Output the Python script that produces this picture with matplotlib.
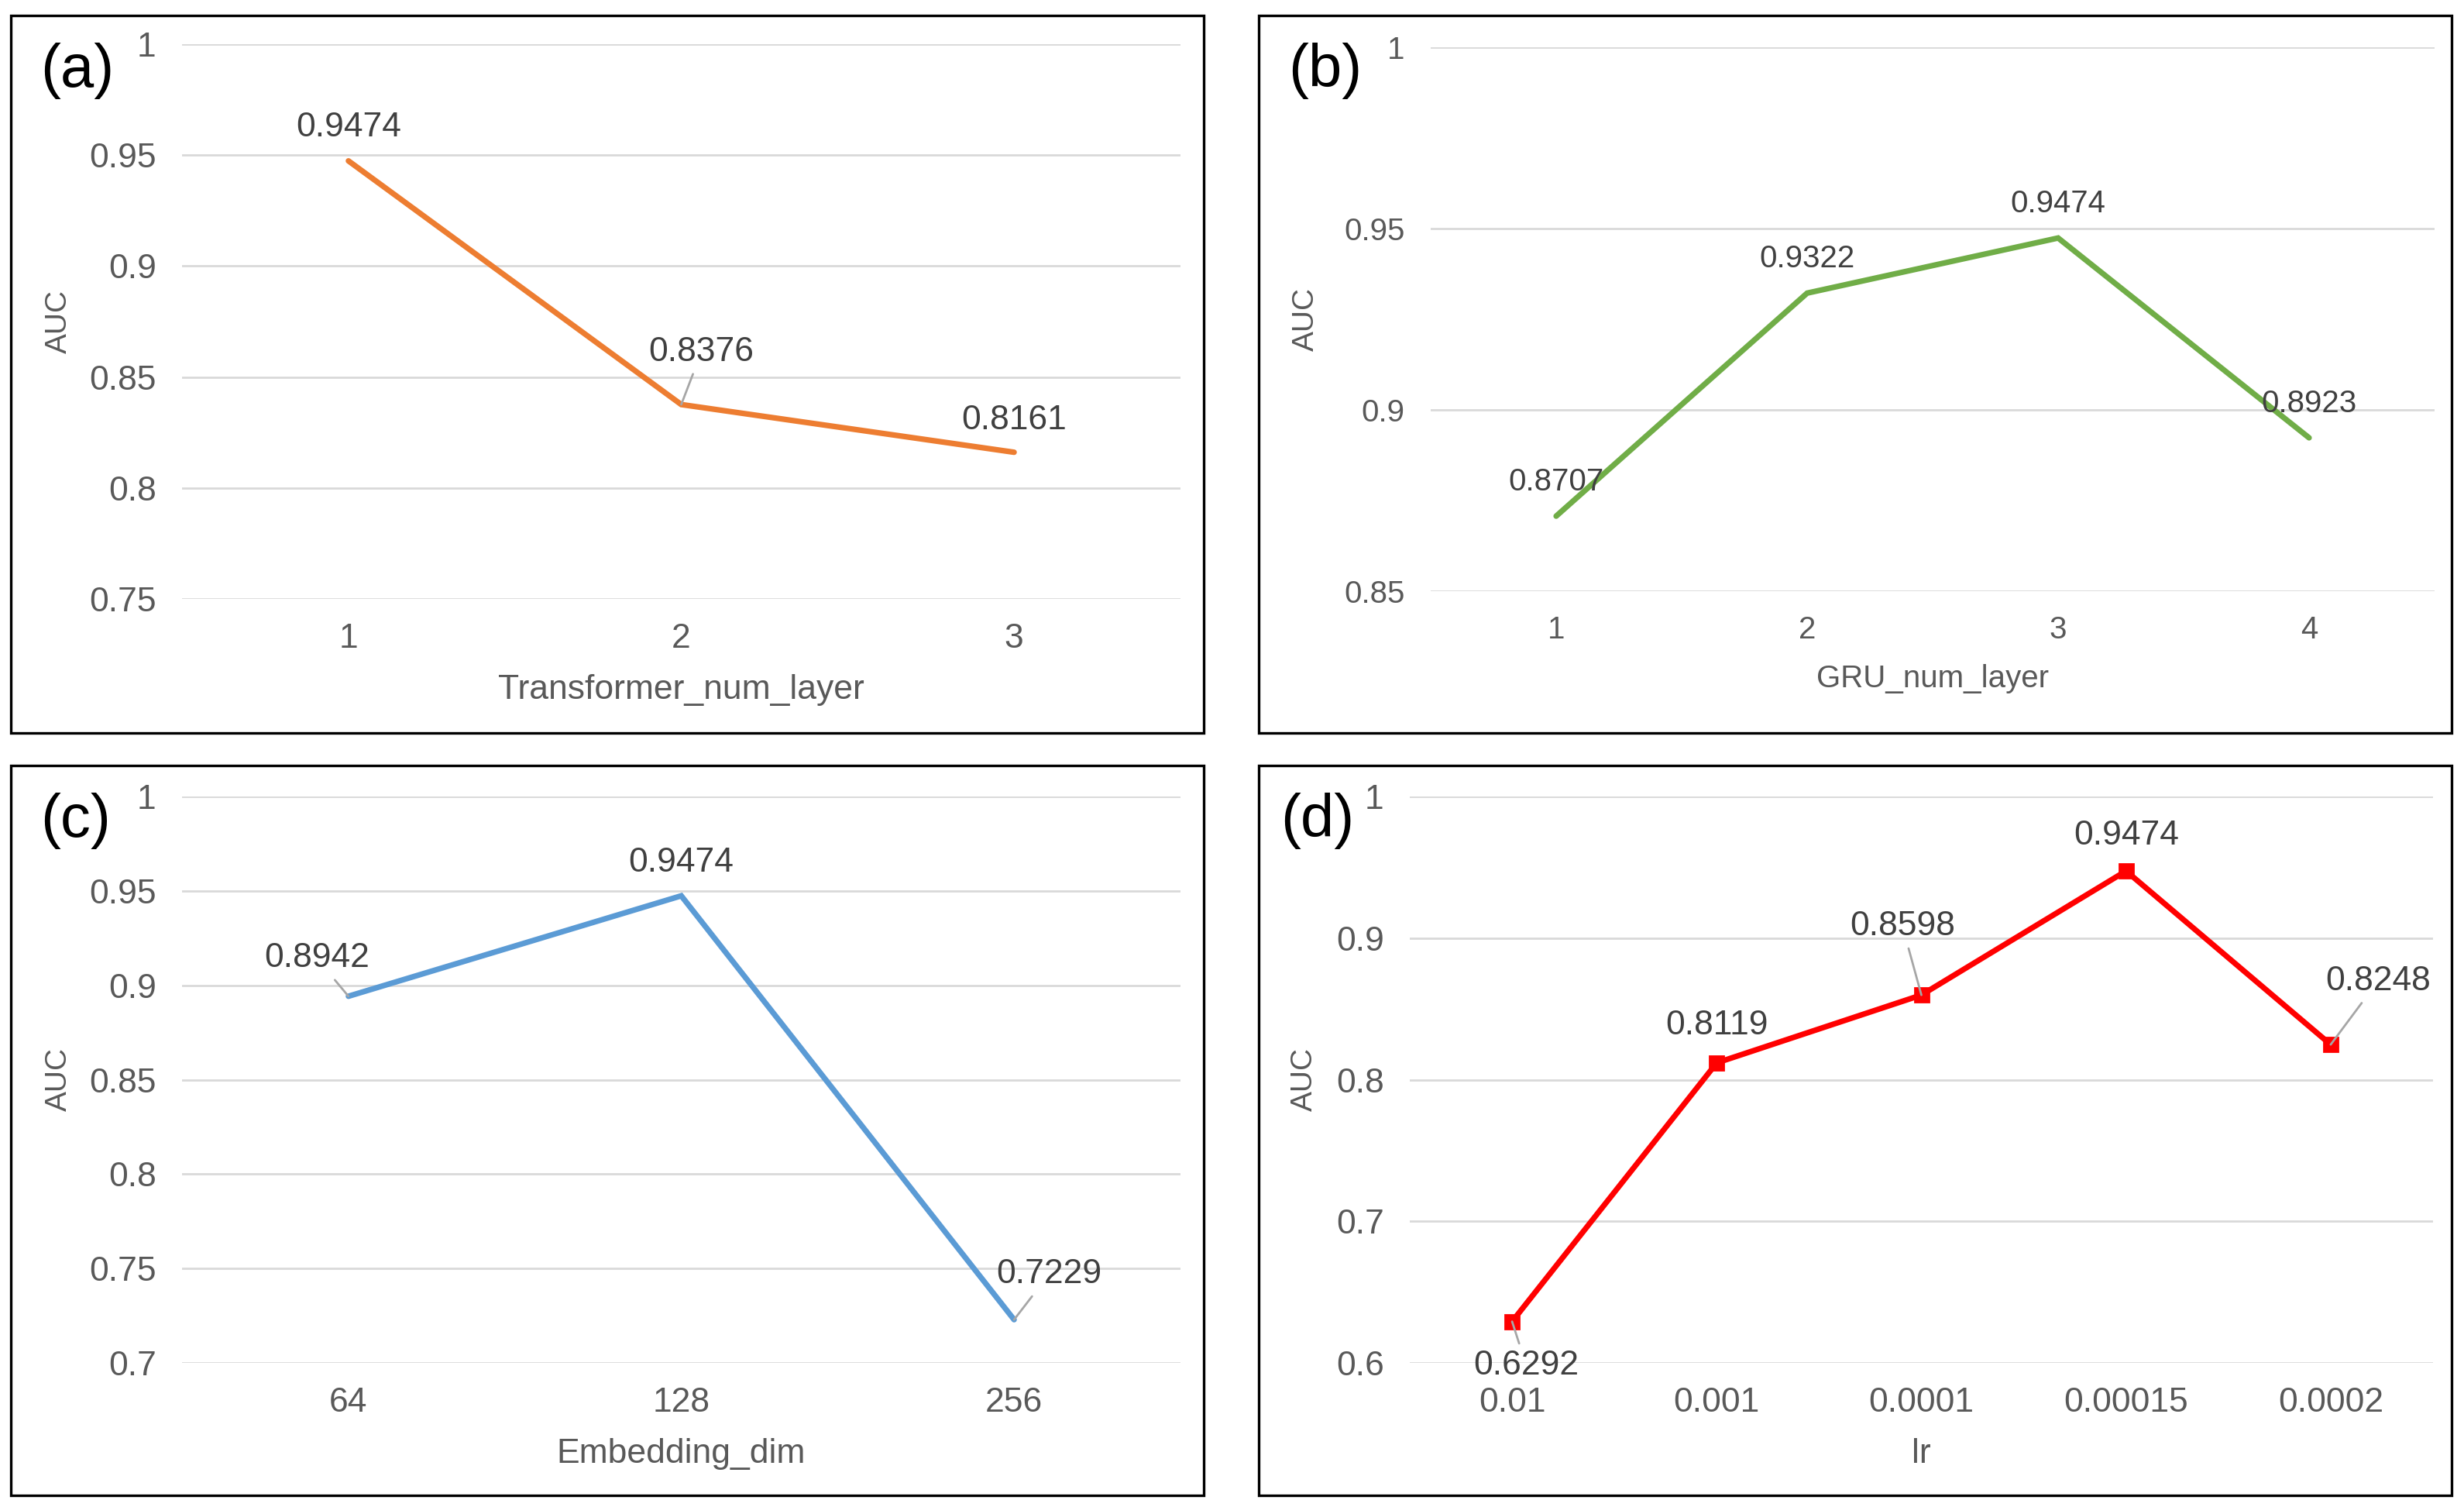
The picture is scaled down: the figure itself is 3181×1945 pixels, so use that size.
import matplotlib.pyplot as plt
from matplotlib.patches import Rectangle

# data
a_cats = ['1', '2', '3']
a_auc = [0.9474, 0.8376, 0.8161]
a_yticks = [0.75, 0.8, 0.85, 0.9, 0.95, 1]

b_cats = ['1', '2', '3', '4']
b_auc = [0.8707, 0.9322, 0.9474, 0.8923]
b_yticks = [0.85, 0.9, 0.95, 1]

c_cats = ['64', '128', '256']
c_auc = [0.8942, 0.9474, 0.7229]
c_yticks = [0.7, 0.75, 0.8, 0.85, 0.9, 0.95, 1]

d_cats = ['0.01', '0.001', '0.0001', '0.00015', '0.0002']
d_auc = [0.6292, 0.8119, 0.8598, 0.9474, 0.8248]
d_yticks = [0.6, 0.7, 0.8, 0.9, 1]

W, H = 3181, 1945
DPI = 200
fig = plt.figure(figsize=(W / DPI, H / DPI), dpi=DPI)

ARIAL = ['Liberation Sans', 'DejaVu Sans']


def px_axes(x0, y0, x1, y1):
    # pixel box (top-left origin) -> figure fraction axes
    return fig.add_axes([x0 / W, 1 - y1 / H, (x1 - x0) / W, (y1 - y0) / H])


def panel(box, axbox, letter, cats, vals, yticks, xlabel, color,
          offsets, leaders, fsize, ylab_px, letter_dx, marker=None):
    x0, y0, x1, y1 = box
    fig.patches.append(Rectangle((x0 / W, 1 - y1 / H), (x1 - x0) / W, (y1 - y0) / H,
                                 transform=fig.transFigure, fill=False,
                                 edgecolor='black', lw=1.2))
    ax = px_axes(*axbox)
    xs = list(range(len(cats)))
    ax.plot(xs, vals, color=color, lw=2.6, solid_capstyle='round',
            solid_joinstyle='miter', marker=marker, markersize=6.5,
            markeredgecolor=color, zorder=3)
    ax.set_xlim(-0.5, len(cats) - 0.5)
    ax.set_ylim(yticks[0], yticks[-1])
    ax.set_xticks(xs)
    ax.set_xticklabels(cats, family=ARIAL, fontsize=fsize, color='#595959')
    ax.set_yticks(yticks)
    ax.set_yticklabels([f'{t:g}' for t in yticks], family=ARIAL, fontsize=fsize,
                       color='#595959')
    ax.tick_params(length=0, pad=12)
    ax.tick_params(axis='x', pad=11)
    for s in ax.spines.values():
        s.set_visible(False)
    ax.grid(axis='y', color='#d9d9d9', lw=1.0)
    ax.set_axisbelow(True)
    ax.set_xlabel(xlabel, family=ARIAL, fontsize=fsize, color='#595959', labelpad=9)
    ax.set_ylabel('AUC', family=ARIAL, fontsize=14, color='#595959')
    ax.yaxis.set_label_coords((ylab_px - axbox[0]) / (axbox[2] - axbox[0]), 0.5)
    for x, v, off, lead in zip(xs, vals, offsets, leaders):
        kw = {}
        if lead:
            kw['arrowprops'] = dict(arrowstyle='-', color='#a6a6a6', lw=1.0,
                                    shrinkA=1, shrinkB=0)
        ax.annotate(f'{v:.4f}', (x, v), xytext=off, textcoords='offset points',
                    ha='center', va='center', family=ARIAL, fontsize=fsize,
                    color='#404040', zorder=4, **kw)
    fig.text((x0 + letter_dx) / W, 1 - (y0 + 72) / H, letter, family=ARIAL,
             fontsize=28, color='black', ha='left', va='center')
    return ax


panel((14, 20, 1554, 946), (235, 57, 1524, 773), '(a)', a_cats, a_auc, a_yticks,
      'Transformer_num_layer', '#ED7D31',
      [(0, 15.5), (9.4, 24.5), (0, 15)], [False, True, False], 16, 94, 38)

panel((1625, 20, 3165, 946), (1847, 61, 3143, 763), '(b)', b_cats, b_auc, b_yticks,
      'GRU_num_layer', '#70AD47',
      [(0, 16), (0, 16), (0, 16), (0, 16)], [False, False, False, False],
      14.5, 1704, 38)

panel((14, 988, 1554, 1930), (235, 1028, 1524, 1759), '(c)', c_cats, c_auc, c_yticks,
      'Embedding_dim', '#5B9BD5',
      [(-14.8, 17.7), (0, 15.3), (16.2, 21)], [True, False, True], 16, 94, 38)

panel((1625, 988, 3165, 1930), (1820, 1028, 3141, 1759), '(d)', d_cats, d_auc, d_yticks,
      'lr', '#FF0000',
      [(6.6, -20.5), (0, 17.5), (-8.8, 32), (0, 16.4), (22, 29.5)],
      [True, False, True, False, True], 16, 1702, 28, marker='s')

fig.savefig('out.png', dpi=DPI)
